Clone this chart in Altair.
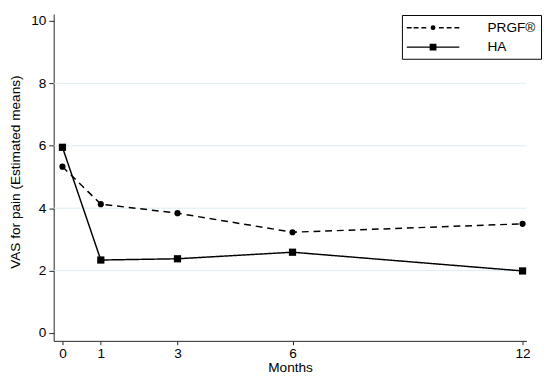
import altair as alt
import pandas as pd

months = [0, 1, 3, 6, 12]
prgf = [5.33, 4.13, 3.84, 3.23, 3.50]
ha = [5.95, 2.34, 2.38, 2.59, 1.99]
series_names = ["PRGF®", "HA"]
y_ticks = [0, 2, 4, 6, 8, 10]
grid_vals = [2, 4, 6, 8]

df = pd.DataFrame({
    "month": months * 2,
    "vas": prgf + ha,
    "series": [series_names[0]] * len(months) + [series_names[1]] * len(months),
})
grid_df = pd.DataFrame({"g": grid_vals})

FONT = "Liberation Sans"
xscale = alt.Scale(domain=[-0.228, 12.101], nice=False, zero=False)
yscale = alt.Scale(domain=[-0.249, 10.218], nice=False, zero=False)


def circ(r):
    return f"M{-r},0A{r},{r} 0 1,0 {r},0A{r},{r} 0 1,0 {-r},0Z"


def sq(h):
    return f"M{-h},{-h}H{h}V{h}H{-h}Z"


# legend symbols (unit = 7px): dashed line with dot, solid line with square
leg_prgf = ("M-3.857,0H-3.143M-2.857,0H-2.143M-1.714,0H-1"
            "M0.857,0H1.571M2,0H2.714M3.143,0H3.857"
            + circ(0.25) + circ(0.1))
leg_ha = "M-3.857,0H3.857" + sq(0.39) + sq(0.22) + sq(0.06)

grid = alt.Chart(grid_df).mark_rule(color="#dcebf2", strokeWidth=1).encode(
    y=alt.Y("g:Q", scale=yscale)
)

lines = alt.Chart(df).mark_line(color="black", strokeWidth=1.5).encode(
    x=alt.X("month:Q", scale=xscale,
            axis=alt.Axis(values=months, title="Months", grid=False)),
    y=alt.Y("vas:Q", scale=yscale,
            axis=alt.Axis(values=y_ticks, title="VAS for pain (Estimated means)",
                          grid=False, titleY=162)),
    strokeDash=alt.StrokeDash("series:N", scale=alt.Scale(domain=series_names, range=[[7, 5], [1, 0]]), legend=None),
    detail="series:N",
)

points = alt.Chart(df).mark_point(filled=True, color="black", opacity=1).encode(
    x=alt.X("month:Q", scale=xscale),
    y=alt.Y("vas:Q", scale=yscale),
    shape=alt.Shape("series:N", scale=alt.Scale(domain=series_names, range=["circle", "square"]), legend=None),
    size=alt.Size("series:N", scale=alt.Scale(domain=series_names, range=[40, 55]), legend=None),
)

legend = alt.Legend(
    title=None, orient="none", legendX=358, legendY=1,
    strokeColor="black", padding=5, rowPadding=5,
    labelFont=FONT, labelFontSize=14, labelColor="black",
    symbolSize=196, symbolOffset=19, labelOffset=48, symbolOpacity=1,
    symbolStrokeColor="black", symbolStrokeWidth=1.5,
)

legend_layer = alt.Chart(df).mark_point(filled=False, color="black", strokeWidth=1.5, opacity=0).encode(
    x=alt.X("month:Q", scale=xscale),
    y=alt.Y("vas:Q", scale=yscale),
    shape=alt.Shape("series:N", scale=alt.Scale(domain=series_names, range=[leg_prgf, leg_ha]), legend=legend),
)

chart = alt.layer(grid, lines, points, legend_layer).resolve_scale(
    shape="independent"
).properties(
    width=486, height=336, padding=0,
).configure_view(stroke=None).configure_axis(
    labelFont=FONT, titleFont=FONT, labelFontSize=14, titleFontSize=14,
    labelColor="black", titleColor="black", titleFontWeight="normal",
    domainColor="#222222", tickColor="#222222", tickSize=5,
    labelPadding=3,
).configure_axisY(labelAngle=0, titlePadding=9).configure_axisX(labelPadding=2, titlePadding=0, tickSize=4)

chart.save("out.html", embed_options={"renderer": "svg", "actions": False})
